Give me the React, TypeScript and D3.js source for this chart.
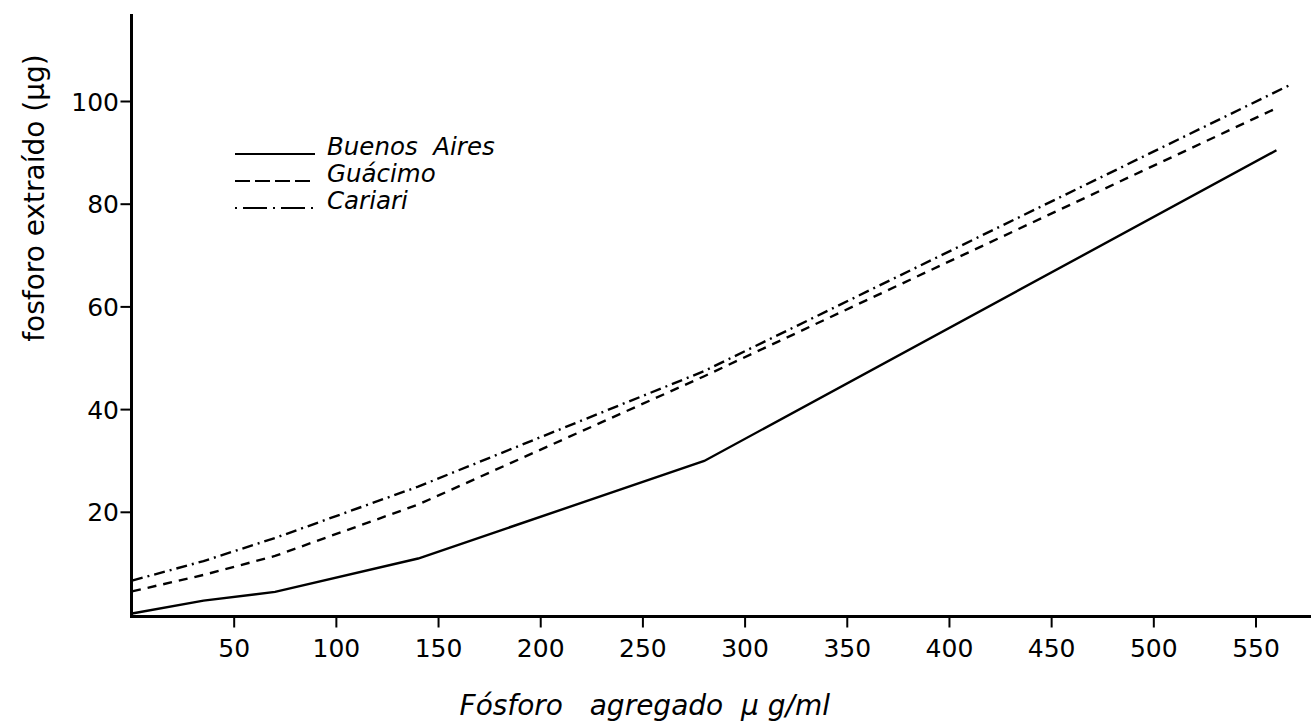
import React from "react";
import * as d3 from "d3";

const xTicks = [50, 100, 150, 200, 250, 300, 350, 400, 450, 500, 550];
const yTicks = [20, 40, 60, 80, 100];

const addedP = [0, 35, 70, 140, 280, 560];
const addedPCariari = [0, 35, 70, 140, 280, 567];
const buenosAires = [0.3, 2.8, 4.5, 11, 30, 90.5];
const guacimo = [4.6, 7.8, 11.5, 21.5, 46.5, 98.7];
const cariari = [6.7, 10.5, 15, 25, 47.5, 103.3];

const seriesNames = ["Buenos  Aires", "Guácimo", "Cariari"];
const plotDash = ["none", "9,7", "11,5,2,5"];
const legendDash = ["none", "15,5", "2,6,24,6"];

const W = 1311;
const H = 727;
const FONT = "'DejaVu Sans', sans-serif";

export default function App() {
  const x = d3.scaleLinear().domain([0, 550]).range([132, 1256]);
  const y = d3.scaleLinear().domain([0, 100]).range([615, 101.5]);

  const seriesData = [
    addedP.map((p, i) => [p, buenosAires[i]] as [number, number]),
    addedP.map((p, i) => [p, guacimo[i]] as [number, number]),
    addedPCariari.map((p, i) => [p, cariari[i]] as [number, number]),
  ];

  const line = d3
    .line<[number, number]>()
    .x((d) => x(d[0]))
    .y((d) => y(d[1]));

  const axisY = y(0) + 1.5;
  const axisX = x(0) - 0.5;

  return (
    <svg
      width={W}
      height={H}
      style={{ position: "absolute", left: 0, top: 0, background: "#fff" }}
      fontFamily={FONT}
    >
      <rect x={0} y={0} width={W} height={H} fill="#fff" />
      {/* axes */}
      <line x1={axisX} x2={axisX} y1={14} y2={axisY + 1.5} stroke="#000" strokeWidth={3} />
      <line x1={axisX - 1.5} x2={W} y1={axisY} y2={axisY} stroke="#000" strokeWidth={3} />

      {/* x ticks */}
      {xTicks.map((t) => (
        <g key={"xt" + t}>
          <line x1={x(t)} x2={x(t)} y1={axisY} y2={axisY + 11} stroke="#000" strokeWidth={2} />
          <text x={x(t)} y={657} textAnchor="middle" fontSize={25} fill="#000">
            {t}
          </text>
        </g>
      ))}

      {/* y ticks */}
      {yTicks.map((t) => (
        <g key={"yt" + t}>
          <line x1={axisX - 11} x2={axisX} y1={y(t)} y2={y(t)} stroke="#000" strokeWidth={2} />
          <text x={119} y={y(t)} dy="0.36em" textAnchor="end" fontSize={25} fill="#000">
            {t}
          </text>
        </g>
      ))}

      {/* series */}
      {seriesData.map((d, i) => (
        <path
          key={"s" + i}
          d={line(d) || ""}
          fill="none"
          stroke="#000"
          strokeWidth={2.4}
          strokeDasharray={plotDash[i]}
        />
      ))}

      {/* legend */}
      {seriesNames.map((name, i) => {
        const by = 155 + i * 27;
        return (
          <g key={"lg" + i}>
            <line
              x1={235}
              x2={315}
              y1={by - 1}
              y2={by - 1}
              stroke="#000"
              strokeWidth={2}
              strokeDasharray={legendDash[i]}
            />
            <text x={327} y={by} fontSize={24.5} fontStyle="italic" fill="#000" xmlSpace="preserve">
              {name}
            </text>
          </g>
        );
      })}

      {/* axis titles */}
      <text
        transform="translate(44,198) rotate(-90)"
        textAnchor="middle"
        fontSize={28}
        fill="#000"
      >
        fosforo extraído (μg)
      </text>
      <text x={830} y={715} textAnchor="end" fontSize={28} fontStyle="italic" fill="#000" xmlSpace="preserve">
        Fósforo   agregado  μ g/ml
      </text>
    </svg>
  );
}
